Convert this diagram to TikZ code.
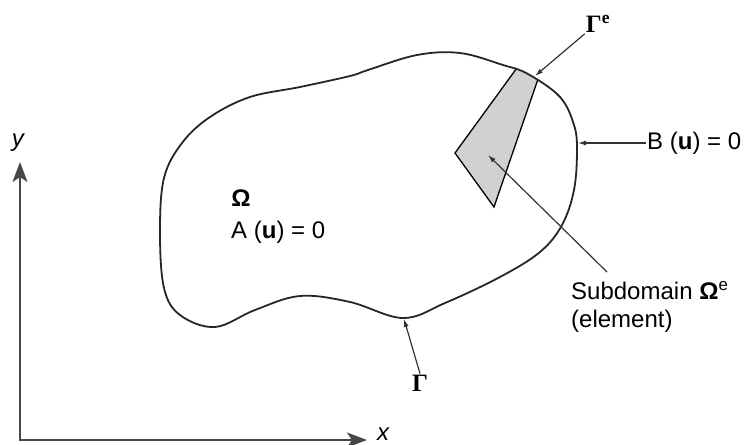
\documentclass[tikz,border=0pt]{standalone}
\usepackage{fontspec}
\setmainfont{Liberation Sans}
\setsansfont{Liberation Sans}
\newfontfamily\gammafont{Liberation Serif}
\usetikzlibrary{arrows.meta}

\tikzset{
  axis/.style={{Stealth[length=20pt,width=15pt,inset=5pt]}-{Stealth[length=20pt,width=15pt,inset=5pt]},line width=2.2pt,black!72},
  pointer/.style={-{Latex[length=8pt,width=5pt]},line width=1.2pt,black!80},
  lbl/.style={inner sep=1pt,font=\fontsize{24}{28}\selectfont},
  gammalbl/.style={inner sep=1pt,font=\fontsize{25}{28}\selectfont\gammafont\bfseries},
}
\newcommand\boundary{plot[smooth cycle,tension=0.6] coordinates {
  (160,232) (164,178) (182,143) (210,117) (250,97) (300,87) (350,76)
  (368,70) (417,55) (460,53) (503,65) (528,74) (560,97) (574,125)
  (577,150) (574,190) (562,225) (540,252) (500,277) (445,303) (403,318)
  (350,302) (300,296) (255,310) (215,327) (180,315) (164,288)}}

\begin{document}
\begin{tikzpicture}[x=1pt,y=-1pt,>=Latex,font=\sffamily]
\useasboundingbox (0,0) rectangle (748,445);
\coordinate (ytip) at (20,162);
\coordinate (xtip) at (367,440);
\draw[axis] (ytip) |- (xtip);
\node[lbl,font=\fontsize{24}{28}\selectfont\itshape] (ylbl) at (18,143) {y};
\node[lbl,font=\fontsize{24}{28}\selectfont\itshape] (xlbl) at (383,434) {x};

\begin{scope}
  \clip \boundary;
  \draw[fill=black!18,line width=1.3pt] (455,153)--(530,50)--(548,50)--(494,207)--cycle;
\end{scope}
\draw[line width=1.8pt,black!85] \boundary;

\coordinate (gEtip) at (535,76);
\coordinate (Btip) at (578,143);
\coordinate (Gtip) at (404,319);
\coordinate (elemtip) at (488,155);

\node[lbl] (omega) at (241,198) {\bfseries Ω};
\node[lbl,anchor=north west] (Aeq) at (230,220) {A (\textbf{u}) = 0};
\node[lbl,anchor=west] (Beq) at (646,143) {B (\textbf{u}) = 0};
\node[lbl,anchor=north west,align=left] (sub) at (570,280)
  {Subdomain \textbf{Ω}\textsuperscript{e}\\(element)};
\node[gammalbl] (gammaE) at (598,24) {Γ\textsuperscript{e}};
\node[gammalbl] (gamma) at (420,383) {Γ};

\draw[pointer] (Beq.west) -- (Btip);
\draw[pointer] (gammaE.south west) -- (gEtip);
\draw[pointer] (gamma.north) -- (Gtip);
\draw[pointer] ([xshift=37pt,yshift=8pt]sub.north west) -- (elemtip);
\end{tikzpicture}
\end{document}
